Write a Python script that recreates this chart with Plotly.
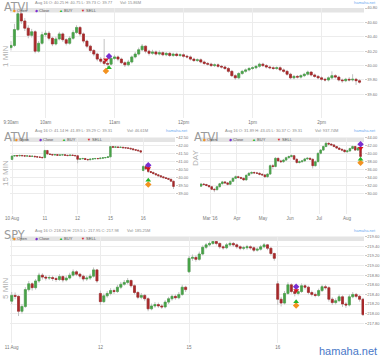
import plotly.graph_objects as go

# ======================= DATA =======================
# Panel 1 : ATVI, 1 MIN session of Aug 16 (read every 3 minutes from 9:30am)
atvi_1m_first_open = 40.25
atvi_1m_close = [40.28, 40.50, 40.72, 40.62, 40.52, 40.42, 40.47, 40.20, 40.31, 40.43,
                 40.45, 40.38, 40.30, 40.37, 40.44, 40.36, 40.31, 40.38, 40.46, 40.53,
                 40.44, 40.34, 40.27, 40.21, 40.16, 40.09, 40.06, 40.03, 40.02, 40.10,
                 40.12, 40.09, 40.04, 40.01, 40.05, 40.12, 40.16, 40.22, 40.27, 40.20,
                 40.17, 40.19, 40.16, 40.18, 40.15, 40.17, 40.14, 40.16, 40.14, 40.15,
                 40.13, 40.12, 40.09, 40.07, 40.08, 40.05, 40.03, 40.02, 40.00, 40.01,
                 39.99, 39.98, 39.96, 39.92, 39.86, 39.83, 39.89, 39.92, 39.94, 39.96,
                 39.97, 39.99, 40.02, 40.00, 39.98, 39.97, 39.96, 39.97, 39.94, 39.92,
                 39.88, 39.83, 39.85, 39.84, 39.86, 39.88, 39.91, 39.87, 39.85, 39.83,
                 39.81, 39.80, 39.83, 39.86, 39.84, 39.80, 39.79, 39.81, 39.80, 39.81,
                 39.79, 39.77]
atvi_1m_high = [40.34, 40.58, 40.75, 40.74, 40.66, 40.56, 40.51, 40.49, 40.34, 40.47,
                40.49, 40.48, 40.40, 40.40, 40.47, 40.46, 40.38, 40.41, 40.49, 40.56,
                40.55, 40.46, 40.36, 40.29, 40.23, 40.18, 40.12, 40.37, 40.12, 40.13,
                40.15, 40.14, 40.11, 40.06, 40.08, 40.14, 40.19, 40.25, 40.30, 40.28,
                40.22, 40.22, 40.21, 40.21, 40.20, 40.19, 40.19, 40.18, 40.18, 40.17,
                40.17, 40.15, 40.14, 40.11, 40.10, 40.10, 40.07, 40.05, 40.04, 40.03,
                40.03, 40.01, 40.00, 39.98, 39.94, 39.88, 39.91, 39.94, 39.96, 39.98,
                39.99, 40.01, 40.04, 40.04, 40.02, 40.00, 39.99, 39.99, 39.99, 39.96,
                39.94, 39.90, 39.87, 39.87, 39.88, 39.90, 39.93, 39.92, 39.89, 39.87,
                39.85, 39.83, 39.85, 39.92, 39.88, 39.86, 39.82, 39.83, 39.84, 39.88,
                39.83, 39.81]
atvi_1m_low = [40.21, 40.26, 40.48, 40.58, 40.48, 40.38, 40.39, 40.17, 40.18, 40.29,
               40.40, 40.35, 40.27, 40.28, 40.35, 40.33, 40.28, 40.29, 40.36, 40.44,
               40.41, 40.31, 40.24, 40.18, 40.13, 40.06, 40.03, 40.00, 39.98, 40.00,
               40.08, 40.06, 40.02, 39.98, 39.99, 40.03, 40.10, 40.14, 40.20, 40.17,
               40.14, 40.15, 40.14, 40.14, 40.13, 40.13, 40.12, 40.12, 40.12, 40.12,
               40.11, 40.10, 40.07, 40.05, 40.05, 40.03, 40.01, 40.00, 39.98, 39.98,
               39.97, 39.96, 39.94, 39.90, 39.84, 39.80, 39.81, 39.87, 39.90, 39.92,
               39.94, 39.95, 39.97, 39.98, 39.96, 39.95, 39.94, 39.94, 39.92, 39.90,
               39.86, 39.81, 39.81, 39.82, 39.82, 39.84, 39.86, 39.85, 39.83, 39.81,
               39.79, 39.78, 39.78, 39.81, 39.82, 39.78, 39.76, 39.77, 39.78, 39.78,
               39.73, 39.75]
atvi_1m_tickpos = [0, 10, 30, 50, 70, 90]
atvi_1m_ticktext = ["9:30am", "10am", "11am", "12pm", "1pm", "2pm"]
atvi_1m_yticks = [39.60, 39.80, 40.00, 40.20, 40.40, 40.60, 40.80]
atvi_1m_mark_x = [27.5, 28.4, 28.4, 27.5]          # Open, Close, BUY, SELL
atvi_1m_mark_y = [39.925, 40.13, 39.97, 40.08]

# Panel 2 : ATVI, 15 MIN, Aug 10 - Aug 16 (13 bars per day)
atvi_15m_session_opens = {0: 41.14, 52: 40.45}
atvi_15m_close = [41.35, 41.38, 41.36, 41.39, 41.37, 41.35, 41.36, 41.33, 41.34, 41.31, 41.29, 41.27, 41.25,
                  41.70, 41.48, 41.45, 41.42, 41.44, 41.40, 41.42, 41.43, 41.40, 41.38, 41.41, 41.39, 41.37,
                  41.15, 41.18, 41.20, 41.14, 41.12, 41.16, 41.18, 41.20, 41.19, 41.22, 41.24, 41.26, 41.30,
                  41.94, 41.90, 41.92, 41.89, 41.90, 41.87, 41.86, 41.84, 41.80, 41.75, 41.72, 41.68, 41.60,
                  40.70, 40.55, 40.38, 40.33, 40.25, 40.18, 40.12, 40.05, 40.00, 39.95, 39.90, 39.78, 39.45]
atvi_15m_high = [41.37, 41.41, 41.40, 41.42, 41.41, 41.39, 41.39, 41.37, 41.37, 41.35, 41.33, 41.31, 41.29,
                 41.74, 41.72, 41.50, 41.47, 41.47, 41.45, 41.45, 41.46, 41.44, 41.42, 41.44, 41.43, 41.40,
                 41.38, 41.22, 41.24, 41.22, 41.17, 41.18, 41.21, 41.23, 41.23, 41.24, 41.27, 41.29, 41.33,
                 41.99, 41.96, 41.95, 41.94, 41.93, 41.91, 41.89, 41.88, 41.86, 41.81, 41.77, 41.74, 41.70,
                 40.78, 40.74, 40.65, 40.42, 40.36, 40.28, 40.21, 40.15, 40.08, 40.03, 39.98, 39.93, 39.80]
atvi_15m_low = [41.12, 41.33, 41.33, 41.34, 41.34, 41.32, 41.33, 41.30, 41.31, 41.28, 41.26, 41.24, 41.22,
                41.23, 41.45, 41.42, 41.39, 41.40, 41.37, 41.38, 41.40, 41.37, 41.35, 41.36, 41.36, 41.34,
                40.90, 41.12, 41.16, 41.11, 41.09, 41.10, 41.14, 41.16, 41.16, 41.17, 41.20, 41.22, 41.24,
                41.28, 41.86, 41.88, 41.86, 41.86, 41.84, 41.82, 41.81, 41.77, 41.72, 41.69, 41.66, 41.57,
                40.40, 40.48, 40.30, 40.28, 40.22, 40.15, 40.09, 40.02, 39.97, 39.92, 39.86, 39.75, 39.29]
atvi_15m_tickpos = [0, 13, 26, 39, 52]
atvi_15m_ticktext = ["10 Aug", "11", "12", "15", "16"]
atvi_15m_yticks = [39.00, 39.50, 40.00, 40.50, 41.00, 41.50, 42.00, 42.50]
atvi_15m_mark_x = [54, 54, 54, 54]
atvi_15m_mark_y = [39.57, 40.78, 39.84, 40.57]

# Panel 3 : ATVI, DAY (one candle per two sessions), Mar - Aug 16
atvi_day_session_opens = {0: 31.89}
atvi_day_close = [32.40, 32.30, 32.05, 31.75, 31.10, 31.00, 31.75, 32.50, 32.95, 32.70,
                  32.35, 33.10, 33.85, 34.25, 34.05, 33.85, 33.45, 34.60, 35.10, 35.30,
                  35.20, 35.10, 34.85, 34.70, 34.25, 34.90, 37.00, 36.80, 38.85, 38.20,
                  38.00, 38.40, 39.00, 39.30, 39.50, 38.60, 37.80, 38.00, 38.20, 38.70,
                  38.85, 38.60, 37.00, 38.00, 40.10, 40.90, 41.80, 42.60, 42.40, 42.20,
                  41.80, 41.40, 41.10, 40.90, 40.50, 40.70, 41.30, 41.80, 40.90, 41.40,
                  39.31]
atvi_day_high = [32.70, 32.65, 32.45, 32.20, 31.90, 31.40, 31.95, 32.70, 33.20, 33.15,
                 32.90, 33.30, 34.05, 34.55, 34.50, 34.25, 34.00, 34.80, 35.40, 35.60,
                 35.55, 35.45, 35.30, 35.05, 34.90, 35.10, 37.30, 37.40, 39.10, 39.00,
                 38.50, 38.70, 39.25, 39.55, 39.80, 39.70, 38.85, 38.30, 38.45, 38.95,
                 39.10, 39.05, 38.80, 38.30, 40.30, 41.15, 42.05, 43.05, 42.85, 42.60,
                 42.35, 41.95, 41.60, 41.30, 41.05, 40.95, 41.50, 42.05, 41.95, 41.70,
                 42.05]
atvi_day_low = [31.70, 32.05, 31.85, 31.50, 30.90, 30.37, 30.85, 31.55, 32.30, 32.45,
                32.10, 32.15, 32.90, 33.65, 33.80, 33.60, 33.20, 33.30, 34.40, 34.85,
                34.95, 34.90, 34.60, 34.45, 33.95, 34.00, 34.70, 36.20, 36.60, 37.90,
                37.70, 37.75, 38.20, 38.75, 39.05, 38.40, 37.50, 37.55, 37.80, 38.00,
                38.45, 38.35, 36.30, 36.80, 37.90, 39.85, 40.70, 41.60, 42.10, 41.95,
                41.60, 41.20, 40.90, 40.60, 40.30, 40.25, 40.50, 41.10, 40.70, 40.70,
                39.25]
atvi_day_tickpos = [3.4, 13.5, 23.3, 33.5, 44.4, 54.9]
atvi_day_ticktext = ["Mar '16", "Apr", "May", "Jun", "Jul", "Aug"]
atvi_day_yticks = [30.00, 32.00, 34.00, 36.00, 38.00, 40.00, 42.00, 44.00]
atvi_day_mark_x = [60, 60, 60, 60]
atvi_day_mark_y = [37.75, 42.35, 38.60, 41.35]

# Panel 4 : SPY, 5 MIN, Aug 11 - Aug 16 (26 bars per day)
spy_5m_session_opens = {0: 218.26, 26: 218.42, 52: 218.87, 78: 218.62}
spy_5m_close = [218.38, 218.36, 218.05, 218.15, 218.50, 218.62, 218.54, 218.68, 218.80, 218.76, 218.74, 218.75, 218.73,
                218.71, 218.77, 218.70, 218.74, 218.80, 218.87, 218.82, 218.78, 218.72, 218.74, 218.78, 218.91, 218.68,
                218.25, 218.37, 218.42, 218.48, 218.46, 218.55, 218.61, 218.65, 218.69, 218.58, 218.44, 218.34, 218.38,
                218.31, 218.10, 218.16, 218.19, 218.16, 218.14, 218.24, 218.31, 218.36, 218.33, 218.40, 218.55, 218.50,
                219.15, 219.17, 219.13, 219.24, 219.38, 219.43, 219.46, 219.50, 219.46, 219.39, 219.37, 219.43, 219.46,
                219.43, 219.39, 219.36, 219.37, 219.39, 219.37, 219.32, 219.34, 219.39, 219.43, 219.36, 219.25, 219.15,
                218.30, 218.22, 218.42, 218.60, 218.46, 218.42, 218.46, 218.58, 218.55, 218.44, 218.40, 218.38, 218.48,
                218.56, 218.54, 218.30, 218.23, 218.27, 218.35, 218.20, 218.18, 218.35, 218.40, 218.36, 218.30, 217.98]
spy_5m_high = [218.45, 218.44, 218.38, 218.20, 218.55, 218.68, 218.65, 218.72, 218.85, 218.84, 218.80, 218.80, 218.79,
               218.77, 218.82, 218.80, 218.79, 218.85, 218.92, 218.90, 218.85, 218.81, 218.79, 218.83, 218.96, 218.93,
               218.48, 218.42, 218.47, 218.53, 218.52, 218.60, 218.66, 218.70, 218.74, 218.71, 218.61, 218.47, 218.43,
               218.41, 218.34, 218.21, 218.24, 218.23, 218.20, 218.28, 218.35, 218.40, 218.40, 218.45, 218.60, 218.58,
               219.20, 219.23, 219.21, 219.29, 219.42, 219.47, 219.50, 219.50, 219.50, 219.48, 219.42, 219.47, 219.50,
               219.49, 219.46, 219.42, 219.41, 219.43, 219.42, 219.40, 219.38, 219.43, 219.47, 219.45, 219.38, 219.27,
               218.68, 218.35, 218.47, 218.65, 218.63, 218.50, 218.51, 218.63, 218.62, 218.58, 218.48, 218.44, 218.52,
               218.60, 218.60, 218.57, 218.34, 218.32, 218.40, 218.38, 218.24, 218.40, 218.45, 218.43, 218.39, 218.33]
spy_5m_low = [218.20, 218.30, 217.95, 218.00, 218.12, 218.46, 218.48, 218.50, 218.64, 218.71, 218.69, 218.70, 218.68,
              218.66, 218.68, 218.65, 218.67, 218.71, 218.77, 218.78, 218.73, 218.67, 218.68, 218.70, 218.75, 218.64,
              218.18, 218.22, 218.33, 218.38, 218.41, 218.43, 218.51, 218.58, 218.61, 218.54, 218.40, 218.30, 218.30,
              218.26, 218.05, 218.07, 218.12, 218.12, 218.10, 218.11, 218.20, 218.27, 218.29, 218.30, 218.37, 218.45,
              218.85, 219.10, 219.08, 219.10, 219.21, 219.34, 219.40, 219.43, 219.42, 219.35, 219.33, 219.34, 219.40,
              219.39, 219.35, 219.32, 219.32, 219.33, 219.33, 219.28, 219.29, 219.31, 219.36, 219.32, 219.21, 219.10,
              218.18, 218.15, 218.19, 218.39, 218.42, 218.36, 218.38, 218.43, 218.50, 218.40, 218.36, 218.34, 218.35,
              218.45, 218.50, 218.25, 218.18, 218.19, 218.24, 218.14, 218.12, 218.15, 218.32, 218.32, 218.25, 217.95]
spy_5m_tickpos = [0, 26, 52, 78]
spy_5m_ticktext = ["11 Aug", "12", "15", "16"]
spy_5m_yticks = [217.80, 218.00, 218.20, 218.40, 218.60, 218.80, 219.00, 219.20, 219.40, 219.60]
spy_5m_mark_x = [83.4, 83.4, 83.4, 83.4]
spy_5m_mark_y = [218.17, 218.56, 218.25, 218.48]

# Text
titles = ["ATVI", "ATVI", "ATVI", "SPY"]
infos = ["Aug 16 O: 40.25 H: 40.75 L: 39.73 C: 39.77",
         "Aug 16 O: 41.14 H: 41.89 L: 39.29 C: 39.31",
         "Aug 16 O: 31.89 H: 43.05 L: 30.37 C: 39.31",
         "Aug 16 O: 218.26 H: 219.5 L: 217.95 C: 217.98"]
vols = ["Vol: 15.86M", "Vol: 46.61M", "Vol: 937.74M", "Vol: 185.25M"]
periods = ["1 MIN", "15 MIN", "DAY", "5 MIN"]
legend_names = ["Open", "Close", "BUY", "SELL"]

# ======================= STYLE =======================
W, H = 380, 358
GREEN, RED, WICK = "#48a348", "#a8282a", "#c2c2c2"
MARK_COLORS = ["#f39220", "#7a2fd0", "#27b52a", "#d4141c"]
MARK_SYMBOLS = ["diamond", "diamond", "triangle-up", "triangle-down"]
LEG_GLYPHS = ["◆", "◆", "▲", "▼"]
GRID, TXT = "#ececec", "#777777"
NARROW = "Liberation Sans Narrow, DejaVu Sans Condensed, Arial Narrow, sans-serif"
SANS = "Liberation Sans, Arial, sans-serif"


def fx(p):
    return p / W


def fy(p):
    return 1 - p / H


def opens_for(closes, session_opens):
    out = []
    for i in range(len(closes)):
        out.append(session_opens[i] if i in session_opens else closes[i - 1])
    return out


atvi_1m_open = opens_for(atvi_1m_close, {0: atvi_1m_first_open})
atvi_15m_open = opens_for(atvi_15m_close, atvi_15m_session_opens)
atvi_day_open = opens_for(atvi_day_close, atvi_day_session_opens)
spy_5m_open = opens_for(spy_5m_close, spy_5m_session_opens)

panels = [
    # (open, high, low, close, tickpos, ticktext, yticks, mark_x, mark_y,
    #  x-domain px, y-domain px, x-range, y-range)
    (atvi_1m_open, atvi_1m_high, atvi_1m_low, atvi_1m_close, atvi_1m_tickpos, atvi_1m_ticktext,
     atvi_1m_yticks, atvi_1m_mark_x, atvi_1m_mark_y, (10, 364), (8, 118), (-0.29, 102.3), (39.272, 40.80)),
    (atvi_15m_open, atvi_15m_high, atvi_15m_low, atvi_15m_close, atvi_15m_tickpos, atvi_15m_ticktext,
     atvi_15m_yticks, atvi_15m_mark_x, atvi_15m_mark_y, (10, 175), (137.5, 214), (-0.8, 64.6), (37.73, 42.51)),
    (atvi_day_open, atvi_day_high, atvi_day_low, atvi_day_close, atvi_day_tickpos, atvi_day_ticktext,
     atvi_day_yticks, atvi_day_mark_x, atvi_day_mark_y, (200, 364), (137.5, 214), (-0.4, 61.3), (24.92, 44.05)),
    (spy_5m_open, spy_5m_high, spy_5m_low, spy_5m_close, spy_5m_tickpos, spy_5m_ticktext,
     spy_5m_yticks, spy_5m_mark_x, spy_5m_mark_y, (10, 364), (236.5, 343), (-0.5, 103.3), (217.39, 219.604)),
]
title_pos = [(2, 6.5), (2, 136.5), (192, 136), (2, 235)]
info_pos = [(33, 118), (33, 125), (223, 313), (33, 125)]
info_y = [3, 130, 130, 230]
period_pos = [(5, 56), (5, 173), (196, 158), (5, 288)]
legend_x = [[13, 35, 59, 81], [15, 39, 62, 87], [203, 229, 252, 277], [13, 35, 59, 81]]
legend_y = [10.5, 139.5, 139.5, 238.5]
link_pos = [(378, 3), (190, 131), (378, 131), (378, 230)]

fig = go.Figure()
shapes, annotations = [], []
layout_axes = {}

for n, (o, h, l, c, tpos, ttext, yt, mx, my, xd, yd, xr, yr) in enumerate(panels):
    k = "" if n == 0 else str(n + 1)
    xa, ya = "x" + k, "y" + k
    xs = list(range(len(c)))
    # wicks (grey)
    fig.add_trace(go.Candlestick(
        x=xs, open=o, high=h, low=l, close=c, xaxis=xa, yaxis=ya,
        increasing=dict(line=dict(color=WICK, width=1), fillcolor=WICK),
        decreasing=dict(line=dict(color=WICK, width=1), fillcolor=WICK),
        whiskerwidth=0, hoverinfo="skip", showlegend=False))
    # coloured bodies
    body_hi = [max(a, b) for a, b in zip(o, c)]
    body_lo = [min(a, b) for a, b in zip(o, c)]
    fig.add_trace(go.Candlestick(
        x=xs, open=o, high=body_hi, low=body_lo, close=c, xaxis=xa, yaxis=ya,
        increasing=dict(line=dict(color=GREEN, width=0.6), fillcolor=GREEN),
        decreasing=dict(line=dict(color=RED, width=0.6), fillcolor=RED),
        whiskerwidth=0, hoverinfo="skip", showlegend=False))
    # trade markers: Open, Close, BUY, SELL
    for j in range(4):
        fig.add_trace(go.Scatter(
            x=[mx[j]], y=[my[j]], mode="markers", xaxis=xa, yaxis=ya, showlegend=False,
            marker=dict(symbol=MARK_SYMBOLS[j], size=5, color=MARK_COLORS[j],
                        line=dict(width=0))))

    xname = "xaxis" + k
    yname = "yaxis" + k
    layout_axes[xname] = dict(
        domain=[fx(xd[0]), fx(xd[1])], range=list(xr), anchor=ya,
        tickmode="array", tickvals=tpos, ticktext=ttext,
        showgrid=True, gridcolor=GRID, gridwidth=1, zeroline=False, showline=False,
        ticks="", tickfont=dict(size=4.5, color=TXT, family=SANS),
        rangeslider=dict(visible=False), fixedrange=True)
    layout_axes[yname] = dict(
        domain=[fy(yd[1]), fy(yd[0])], range=list(yr), anchor=xa, side="right",
        tickmode="array", tickvals=yt, ticktext=["%.2f" % v for v in yt],
        showgrid=True, gridcolor=GRID, gridwidth=1, zeroline=False, showline=False,
        ticks="outside", ticklen=1.5, tickcolor="#c8c8c8",
        tickfont=dict(size=4, color=TXT, family=SANS), fixedrange=True)

    # legend band
    shapes.append(dict(type="rect", xref="paper", yref="paper",
                       x0=fx(xd[0]), x1=fx(xd[1]), y0=fy(yd[0] + 4.5), y1=fy(yd[0]),
                       fillcolor="#e4e4e4", line=dict(width=0), layer="below"))
    # title
    annotations.append(dict(text=titles[n], x=fx(title_pos[n][0]), y=fy(title_pos[n][1]),
                            xref="paper", yref="paper", xanchor="left", yanchor="middle",
                            showarrow=False, font=dict(size=12.5, color="#9a9a9a", family=NARROW)))
    annotations.append(dict(text=infos[n], x=fx(info_pos[n][0]), y=fy(info_y[n]),
                            xref="paper", yref="paper", xanchor="left", yanchor="middle",
                            showarrow=False, font=dict(size=4, color="#8a8a8a", family=SANS)))
    annotations.append(dict(text=vols[n], x=fx(info_pos[n][1]), y=fy(info_y[n]),
                            xref="paper", yref="paper", xanchor="left", yanchor="middle",
                            showarrow=False, font=dict(size=4, color="#8a8a8a", family=SANS)))
    annotations.append(dict(text=periods[n], x=fx(period_pos[n][0]), y=fy(period_pos[n][1]),
                            xref="paper", yref="paper", xanchor="center", yanchor="middle",
                            textangle=-90, showarrow=False,
                            font=dict(size=8, color="#b0b0b0", family=SANS)))
    for j in range(4):
        annotations.append(dict(
            text='<span style="color:%s">%s</span> %s' % (MARK_COLORS[j], LEG_GLYPHS[j], legend_names[j]),
            x=fx(legend_x[n][j] - 2), y=fy(legend_y[n]), xref="paper", yref="paper",
            xanchor="left", yanchor="middle", showarrow=False,
            font=dict(size=4, color="#555555", family=SANS)))
    annotations.append(dict(text="hamaha.net", x=fx(link_pos[n][0]), y=fy(link_pos[n][1]),
                            xref="paper", yref="paper", xanchor="right", yanchor="middle",
                            showarrow=False, font=dict(size=4, color="#6aaaf0", family=SANS)))

annotations.append(dict(text="hamaha.net", x=fx(379), y=fy(351), xref="paper", yref="paper",
                        xanchor="right", yanchor="middle", showarrow=False,
                        font=dict(size=11, color="#4a78c8", family=SANS)))

fig.update_layout(
    width=W, height=H, autosize=False,
    margin=dict(l=0, r=0, t=0, b=0, pad=0),
    paper_bgcolor="white", plot_bgcolor="white",
    template="none", showlegend=False, boxgap=0.15,
    shapes=shapes, annotations=annotations,
    **layout_axes)

fig.write_html("out.html", config={"displayModeBar": False},
               post_script="document.body.style.margin='0';document.body.style.padding='0';")
